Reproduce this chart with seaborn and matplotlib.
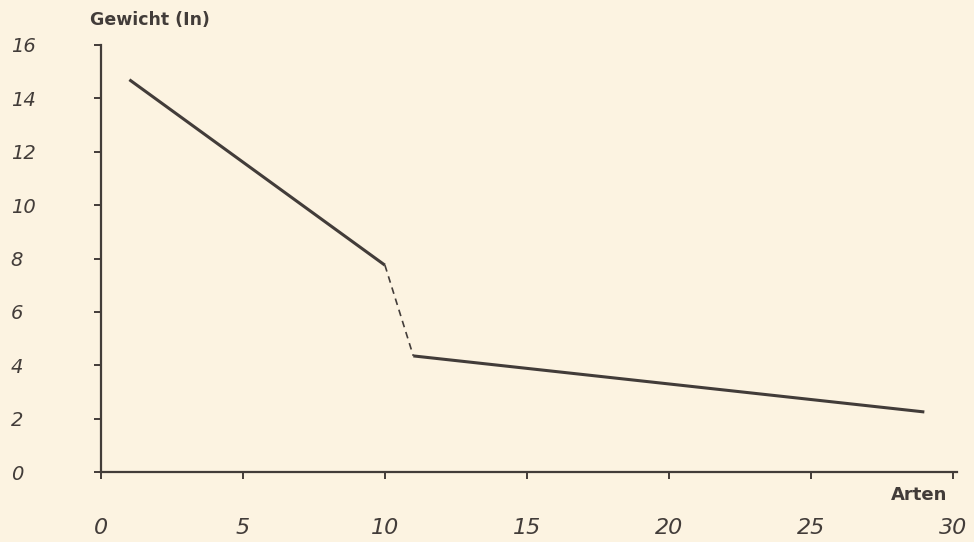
import matplotlib
matplotlib.use("Agg")
import matplotlib.pyplot as plt
import seaborn as sns
import pandas as pd

# values
arten = [1, 10, 11, 29]
gewicht = [14.7, 7.75, 4.35, 2.25]
# segment of each edge: 0 solid, 1 dashed (between 10 and 11), 2 solid
segments = [(0, 1, "solid"), (1, 2, "dashed"), (2, 3, "solid")]

x_ticks = [0, 5, 10, 15, 20, 25, 30]
y_ticks = [0, 2, 4, 6, 8, 10, 12, 14, 16]

bg = "#fcf3e1"
ink = "#423c39"

sns.set_theme(style="ticks")
plt.rcParams["font.family"] = ["DejaVu Sans"]

rows = []
for k, (i, j, kind) in enumerate(segments):
    for p in (i, j):
        rows.append({"arten": arten[p], "gewicht": gewicht[p], "seg": k, "kind": kind})
df = pd.DataFrame(rows)

fig = plt.figure(figsize=(9.74, 5.42), dpi=100, facecolor=bg)
ax = fig.add_axes([101 / 974, 70 / 542, 856 / 974, 427 / 542])
ax.set_facecolor(bg)

for k, part in df.groupby("seg"):
    if part["kind"].iloc[0] == "dashed":
        sns.lineplot(data=part, x="arten", y="gewicht", ax=ax, color=ink,
                     linewidth=1.2, linestyle=(0, (4, 3)))
    else:
        sns.lineplot(data=part, x="arten", y="gewicht", ax=ax, color=ink,
                     linewidth=2.2, solid_capstyle="butt")

ax.set_xlim(0, 30.15)
ax.set_ylim(0, 16)
ax.set_xticks(x_ticks)
ax.set_yticks(y_ticks)
ax.set_xticklabels([str(v) for v in x_ticks], fontsize=16, style="italic", color=ink)
ax.set_yticklabels([str(v) for v in y_ticks], fontsize=14, style="italic", color=ink,
                   ha="left")

ax.tick_params(axis="y", direction="out", length=5, width=1.4, color=ink, pad=60)
ax.tick_params(axis="x", direction="out", length=5, width=1.4, color=ink, pad=28)

sns.despine(ax=ax)
for s in ("left", "bottom"):
    ax.spines[s].set_color(ink)
    ax.spines[s].set_linewidth(1.6)

ax.set_xlabel("Arten", fontsize=13, fontweight="bold", color=ink, ha="right", va="center")
ax.xaxis.set_label_coords(0.989, -0.054)
ax.set_ylabel("Gewicht (In)", fontsize=12.5, fontweight="bold", color=ink, rotation=0,
              ha="left", va="center")
ax.yaxis.set_label_coords(-0.013, 1.058)

fig.savefig("out.png", dpi=100, facecolor=bg)
